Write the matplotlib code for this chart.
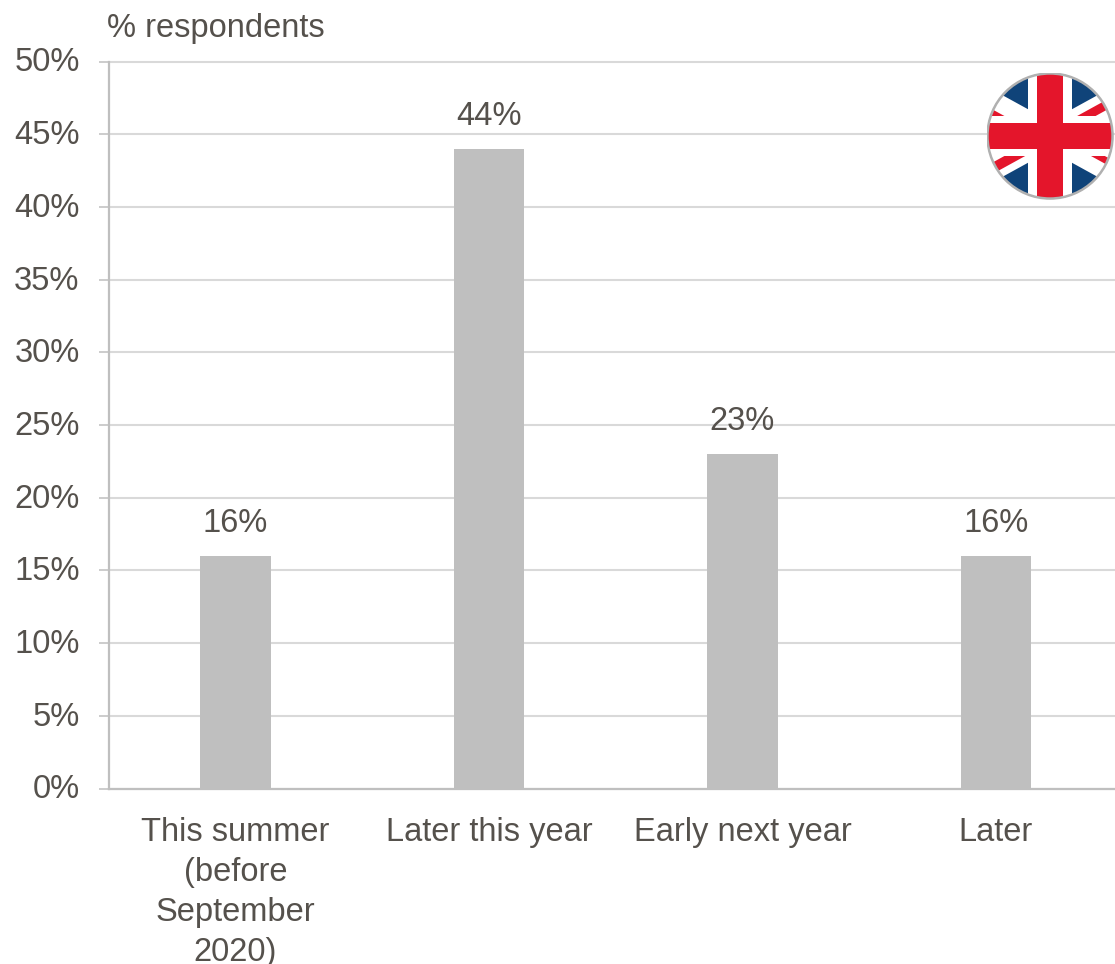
import matplotlib
matplotlib.use('Agg')
import matplotlib.pyplot as plt
from matplotlib.patches import Circle, Polygon, Rectangle
from matplotlib.transforms import ScaledTranslation

categories = ['This summer\n(before\nSeptember\n2020)', 'Later this year', 'Early next year', 'Later']
values = [16, 44, 23, 16]
yticks = [0, 5, 10, 15, 20, 25, 30, 35, 40, 45, 50]

W, H = 1115, 964
text_col = '#55514c'
font_size = 23.5
plt.rcParams['font.family'] = 'Liberation Sans'

fig = plt.figure(figsize=(W / 100, H / 100), dpi=100, facecolor='white')

# the plot area runs slightly past the right edge of the figure
ax = fig.add_axes([108.75 / W, (H - 788.5) / H, 1014 / W, 727 / H])
ax.bar(range(len(values)), values, width=0.278, color='#bfbfbf', zorder=3)
ax.set_xlim(-0.5, 3.5)
ax.set_ylim(0, 50)

ax.set_yticks(yticks)
ax.set_yticklabels(['{}%'.format(t) for t in yticks])
ax.set_xticks(range(len(categories)))
ax.set_xticklabels(categories, linespacing=1.38)
ax.grid(axis='y', color='#d9d9d9', linewidth=1.5, zorder=0, clip_on=False)
ax.set_axisbelow(True)

ax.tick_params(axis='y', length=7, width=1.3, color='#c8c8c8', labelsize=font_size,
               labelcolor=text_col, pad=14)
ax.tick_params(axis='x', length=0, labelsize=font_size, labelcolor=text_col, pad=20.5)

# nudge the percent labels up a little from their ticks
shift = ScaledTranslation(0, 1.5 / 72, fig.dpi_scale_trans)
for lab in ax.get_yticklabels():
    lab.set_transform(lab.get_transform() + shift)

for s in ['top', 'right']:
    ax.spines[s].set_visible(False)
for s in ['left', 'bottom']:
    ax.spines[s].set_color('#bfbfbf')
    ax.spines[s].set_linewidth(1.6)

# value labels above each bar
for i, v in enumerate(values):
    ax.annotate('{}%'.format(v), (i, v), xytext=(0, 12), textcoords='offset points',
                ha='center', va='bottom', fontsize=font_size, color=text_col, zorder=4)

fig.text(107 / W, 1 - 29 / H, '% respondents', fontsize=font_size, color=text_col, ha='left', va='center')

# round union flag in the top right corner
flag = fig.add_axes([(1050 - 63.5) / W, (H - 136 - 63.5) / H, 127 / W, 127 / H], zorder=5)
flag.set_xlim(-1, 1)
flag.set_ylim(-1, 1)
flag.axis('off')
disc = Circle((0, 0), 0.985, transform=flag.transData)

blue = '#0f4379'
red = '#e4152b'
shapes = [Rectangle((-1, -1), 2, 2, color=blue)]
slope = 0.55
# white diagonals
for s in [slope, -slope]:
    shapes.append(Polygon([(-1.1, -1.1 * s - 0.231), (1.1, 1.1 * s - 0.231),
                           (1.1, 1.1 * s + 0.231), (-1.1, -1.1 * s + 0.231)], color='white'))
# thin red diagonals, one piece per quarter, offset from the centre line
quarters = [(-1, 1, -0.2, -0.08), (1, 1, -0.08, 0.08), (-1, -1, -0.1, 0.08), (1, -1, 0.04, 0.16)]
for sx, sy, lo, hi in quarters:
    xe = sx * 1.1
    ye = sy * slope * 1.1
    shapes.append(Polygon([(0, lo), (xe, ye + lo), (xe, ye + hi), (0, hi)], color=red))
# upright cross, white under red
shapes.append(Rectangle((-0.344, -1), 0.688, 2, color='white'))
shapes.append(Rectangle((-1, -0.32), 2, 0.64, color='white'))
shapes.append(Rectangle((-0.206, -1), 0.412, 2, color=red))
shapes.append(Rectangle((-1, -0.21), 2, 0.42, color=red))
for p in shapes:
    p.set_linewidth(0)
    flag.add_patch(p)
    p.set_clip_path(disc)
flag.add_patch(Circle((0, 0), 0.985, facecolor='none', edgecolor='#b0b0b0', linewidth=1.8))

fig.savefig('out.png', dpi=100)
